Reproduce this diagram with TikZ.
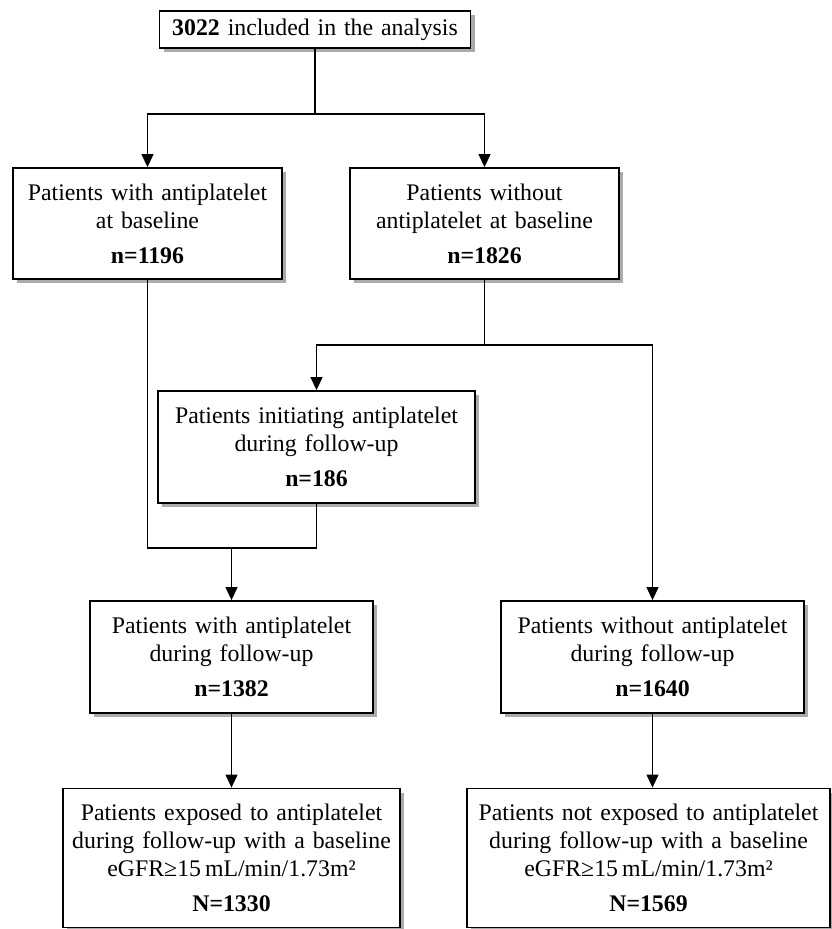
\documentclass[tikz,border=0pt]{standalone}
\usepackage{fontspec}
\setmainfont{Liberation Serif}
\usetikzlibrary{arrows.meta,shadows}
\tikzset{
  box/.style={draw, line width=1.8pt, fill=white, align=center, inner sep=4pt,
    font=\fontsize{23.8}{28}\selectfont,
    drop shadow={shadow xshift=4pt, shadow yshift=-4pt, fill=black!60, opacity=0.55}},
  link/.style={-, line width=1.1pt},
  arr/.style={link, -{Triangle[length=13pt,width=12pt]}}
}
\begin{document}
\begin{tikzpicture}[x=1pt,y=-1pt]
      \useasboundingbox (0,0) rectangle (832,929);
      \draw
        (315,29.5) node[box, text width=303pt, minimum height=37pt] (all)
          {\textbf{3022} included in the analysis}
        (147.5,223.5) node[box, text width=261pt, minimum height=111pt] (base)
          {Patients with antiplatelet\\ at baseline\\[7pt] \textbf{n=1196}}
        (484.5,223.5) node[box, text width=261pt, minimum height=111pt] (nobase)
          {Patients without\\ antiplatelet at baseline\\[7pt] \textbf{n=1826}}
        (316.5,447) node[box, text width=309pt, minimum height=112pt] (init)
          {Patients initiating antiplatelet\\ during follow-up\\[7pt] \textbf{n=186}}
        (231.5,657) node[box, text width=275pt, minimum height=112pt] (with)
          {Patients with antiplatelet\\ during follow-up\\[7pt] \textbf{n=1382}}
        (652.5,657) node[box, text width=295pt, minimum height=112pt] (without)
          {Patients without antiplatelet\\ during follow-up\\[7pt] \textbf{n=1640}}
        (231.5,858) node[box, text width=329pt, minimum height=139pt] (exposed)
          {Patients exposed to antiplatelet\\ during follow-up with a baseline\\
           eGFR≥15\,mL/min/1.73m²\\[7pt] \textbf{N=1330}}
        (648.5,858) node[box, text width=355pt, minimum height=139pt] (notexposed)
          {Patients not exposed to antiplatelet\\ during follow-up with a baseline\\
           eGFR≥15\,mL/min/1.73m²\\[7pt] \textbf{N=1569}};
      \coordinate (s1) at (315,114);
      \coordinate (s2) at (484.5,345);
      \coordinate (s3) at (231.5,548);
      \begin{scope}[arr]
        \draw[link] (all) -- (s1);
        \draw (s1) -| (base);
        \draw (s1) -| (nobase);
        \draw[link] (nobase) -- (s2);
        \draw (s2) -| (init);
        \draw (s2) -| (without);
        \draw[link] (base) |- (s3);
        \draw[link] (init) |- (s3);
        \draw (s3) -- (with);
        \draw (with) -- (exposed);
        \draw (without) -- (without |- notexposed.north);
      \end{scope}
    \end{tikzpicture}
\end{document}
